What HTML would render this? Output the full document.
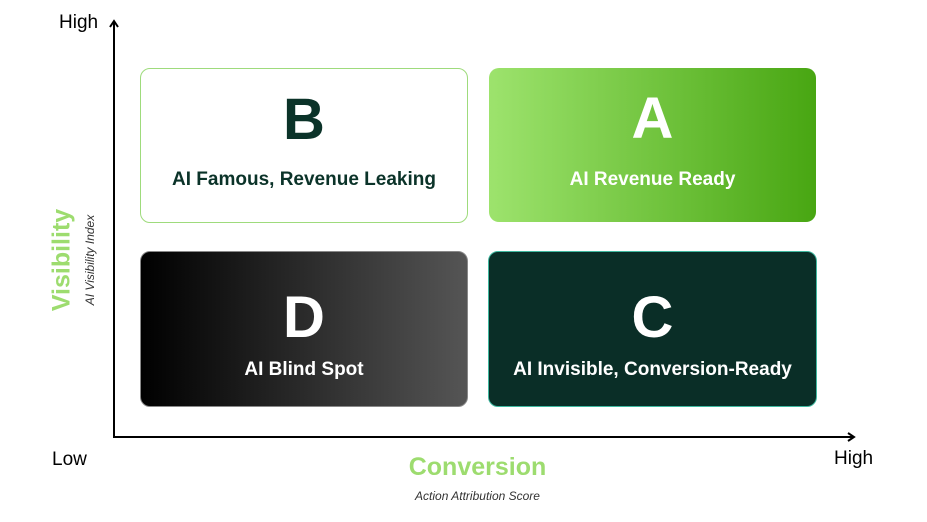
<!DOCTYPE html>
<html><head><meta charset="utf-8"><style>
html,body{margin:0;padding:0;background:#fff;}
body{width:927px;height:522px;position:relative;overflow:hidden;font-family:"Liberation Sans",sans-serif;}
.box{position:absolute;border-radius:10px;box-sizing:border-box;}
.L{position:absolute;left:0;right:0;text-align:center;font-weight:bold;}
.big{font-size:58px;line-height:60px;}
.lab{font-size:19px;line-height:24px;}
.t{position:absolute;white-space:nowrap;}
</style></head><body>
<div class="box" style="left:140px;top:68px;width:328px;height:155px;border:1.5px solid #9edb7c;background:#fff;color:#0b3329;">
 <div class="L big" style="top:21px;">B</div>
 <div class="L lab" style="top:99px;">AI Famous, Revenue Leaking</div>
</div>
<div class="box" style="left:489px;top:68px;width:327px;height:154px;background:linear-gradient(90deg,#9de36d,#48a612);color:#fff;">
 <div class="L big" style="top:21px;">A</div>
 <div class="L lab" style="top:100px;">AI Revenue Ready</div>
</div>
<div class="box" style="left:140px;top:251px;width:328px;height:156px;background:linear-gradient(90deg,#000,#555);border:1px solid #888;color:#fff;">
 <div class="L big" style="top:36px;">D</div>
 <div class="L lab" style="top:106px;">AI Blind Spot</div>
</div>
<div class="box" style="left:488px;top:251px;width:329px;height:156px;background:#0a2e27;border:1.5px solid #3fb8a0;color:#fff;">
 <div class="L big" style="top:36px;">C</div>
 <div class="L lab" style="top:106px;">AI Invisible, Conversion-Ready</div>
</div>
<svg style="position:absolute;left:0;top:0" width="927" height="522">
 <line x1="114" y1="437" x2="114" y2="22" stroke="#000" stroke-width="2"/>
 <polyline points="110,27 114,21 118,27" fill="none" stroke="#000" stroke-width="2"/>
 <line x1="113" y1="437" x2="853" y2="437" stroke="#000" stroke-width="2"/>
 <polyline points="848,433 854,437 848,441" fill="none" stroke="#000" stroke-width="2"/>
</svg>
<div class="t" style="left:59px;top:12px;font-size:19px;color:#000;">High</div>
<div class="t" style="left:52px;top:449px;font-size:19px;color:#000;">Low</div>
<div class="t" style="left:834px;top:448px;font-size:19px;color:#000;">High</div>
<div class="t" style="left:0;width:927px;text-align:center;top:453px;font-size:25px;font-weight:bold;color:#9ddc6f;margin-left:14px;">Conversion</div>
<div class="t" style="left:0;width:927px;text-align:center;top:489px;font-size:12px;font-style:italic;color:#333;margin-left:14px;">Action Attribution Score</div>
<div class="t" style="left:62px;top:260px;transform:translate(-50%,-50%) rotate(-90deg);font-size:25px;font-weight:bold;color:#9ddc6f;">Visibility</div>
<div class="t" style="left:90px;top:260px;transform:translate(-50%,-50%) rotate(-90deg);font-size:12px;font-style:italic;color:#333;">AI Visibility Index</div>
</body></html>
